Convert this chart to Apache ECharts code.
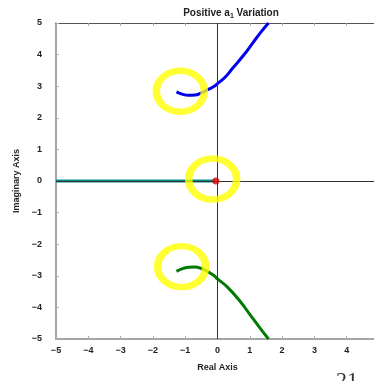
<!DOCTYPE html>
<html>
<head>
<meta charset="utf-8">
<script src="https://cdn.jsdelivr.net/npm/echarts@6/dist/echarts.min.js"></script>
<style>
html,body{margin:0;padding:0;background:#fff;}
#chart{width:374px;height:381px;}
</style>
</head>
<body>
<div id="chart"></div>
<script>
// Axis ranges and ticks
const xTicks = [-5, -4, -3, -2, -1, 0, 1, 2, 3, 4, 5];
const yTicks = [-5, -4, -3, -2, -1, 0, 1, 2, 3, 4, 5];

// Root locus branches as a1 grows (real, imaginary)
const upperBranch = [
  [-1.27, 2.82], [-1.1, 2.75], [-0.9, 2.71], [-0.7, 2.72], [-0.5, 2.79],
  [-0.3, 2.89], [-0.1, 3.0], [0, 3.08], [0.25, 3.3], [0.46, 3.56],
  [0.8, 3.97], [1.1, 4.38], [1.35, 4.72], [1.58, 5.0]
];
const lowerBranch = [
  [-1.27, -2.86], [-1.1, -2.78], [-0.9, -2.73], [-0.7, -2.72], [-0.5, -2.77],
  [-0.3, -2.87], [-0.1, -3.0], [0, -3.1], [0.3, -3.35], [0.71, -3.82],
  [1.0, -4.22], [1.3, -4.63], [1.58, -5.0]
];
const realBranch = [[-5, 0], [-0.08, 0]];
const originPole = [[-0.05, 0]];

// Highlight rings drawn around the regions of interest
const highlightCenters = [[-1.15, 2.84], [-0.15, 0.06], [-1.11, -2.71]];

const fmt = v => (v < 0 ? '\u2212' + Math.abs(v) : String(v));

const chart = echarts.init(document.getElementById('chart'));
const axisFont = {fontFamily: 'Liberation Sans, Arial, sans-serif', fontWeight: 'bold', fontSize: 9, color: '#222'};

chart.setOption({
  animation: false,
  backgroundColor: '#fff',
  title: {
    text: 'Positive a{sub|1} Variation',
    left: 226, top: 2, textAlign: 'center',
    textStyle: {
      fontFamily: 'Liberation Sans, Arial, sans-serif', fontWeight: 'bold', fontSize: 10, color: '#222',
      rich: {sub: {fontSize: 7, fontWeight: 'bold', verticalAlign: 'bottom', padding: [6, 0, 0, 0], color: '#222'}}
    }
  },
  grid: {left: 56, top: 23, width: 323, height: 316, show: false, containLabel: false, outerBoundsMode: 'none'},
  xAxis: [{
    type: 'value', min: -5, max: 5, interval: 1, position: 'bottom',
    name: 'Real Axis', nameLocation: 'middle', nameGap: 24,
    nameTextStyle: {fontFamily: 'Liberation Sans, Arial, sans-serif', fontWeight: 'bold', fontSize: 9, color: '#222'},
    axisLine: {onZero: false, lineStyle: {color: '#888', width: 1.5}},
    axisTick: {inside: true, length: 3, lineStyle: {color: '#aaa'}},
    axisLabel: Object.assign({margin: 7, formatter: fmt}, axisFont),
    splitLine: {show: false}
  }, {
    type: 'value', min: -5, max: 5, interval: 1, position: 'top',
    axisLine: {show: true, onZero: false, lineStyle: {color: '#555', width: 1.2}},
    axisTick: {show: true, inside: true, length: 3, lineStyle: {color: '#aaa'}},
    axisLabel: {show: false}, splitLine: {show: false}
  }],
  yAxis: [{
    type: 'value', min: -5, max: 5, interval: 1, position: 'left',
    name: 'Imaginary Axis', nameLocation: 'middle', nameGap: 34,
    nameTextStyle: {fontFamily: 'Liberation Sans, Arial, sans-serif', fontWeight: 'bold', fontSize: 9, color: '#222'},
    axisLine: {onZero: false, lineStyle: {color: '#888', width: 1.5}},
    axisTick: {inside: true, length: 3, lineStyle: {color: '#aaa'}},
    axisLabel: Object.assign({margin: 14, formatter: fmt}, axisFont),
    splitLine: {show: false}
  }],
  series: [
    {
      type: 'line', data: realBranch, showSymbol: false, silent: true,
      lineStyle: {color: '#008b8b', width: 3}, z: 3,
      markLine: {
        silent: true, symbol: 'none', label: {show: false},
        lineStyle: {color: '#333', width: 1, type: 'solid'},
        data: [{xAxis: 0}, {yAxis: 0}]
      }
    },
    {type: 'line', data: upperBranch, showSymbol: false, smooth: true, lineStyle: {color: '#0000ee', width: 3}, z: 4},
    {type: 'line', data: lowerBranch, showSymbol: false, smooth: true, lineStyle: {color: '#007a00', width: 3}, z: 4},
    {type: 'scatter', data: originPole, symbolSize: 7, itemStyle: {color: '#dd0000'}, z: 5},
    {
      type: 'scatter', data: highlightCenters, silent: true, z: 6,
      symbol: 'path://M0,-1A1,1 0 1,1 0,1A1,1 0 1,1 0,-1Z',
      symbolSize: [48, 41],
      itemStyle: {color: 'none', borderColor: '#ffff00', borderWidth: 7}
    }
  ],
  graphic: [{
    type: 'text', left: 336, top: 370, silent: true,
    style: {text: '21', font: '22px "Liberation Serif", "Times New Roman", serif', fill: '#333'}
  }]
});
</script>
</body>
</html>
